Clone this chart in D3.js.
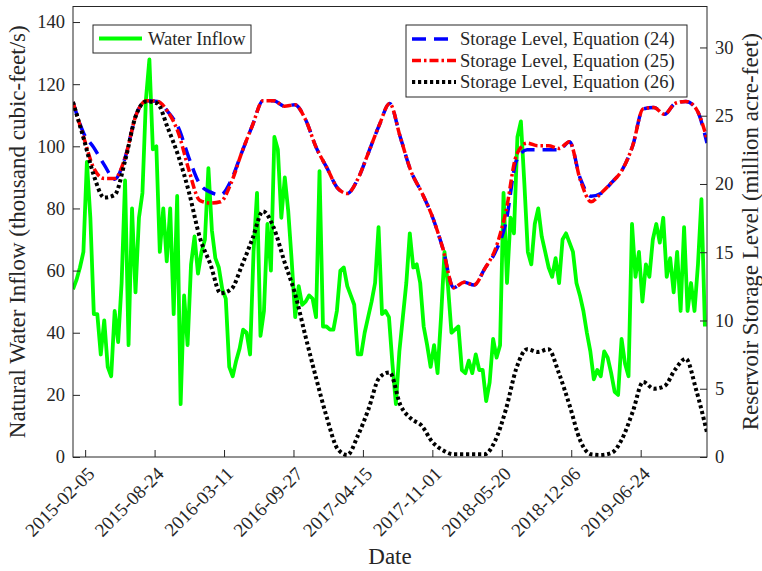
<!DOCTYPE html>
<html>
<head>
<meta charset="utf-8">
<script src="https://cdn.jsdelivr.net/npm/d3@7"></script>
<style>
  body { margin: 0; background: #fff; }
  svg text { font-family: "Liberation Serif", "Times New Roman", serif; fill: #262626; }
</style>
</head>
<body>
<svg id="chart" width="762" height="571"></svg>
<script>
// ---- data ----
// natural inflow, thousand cfs, one value every 10 days from 2015-01-01
const inflowStart = "2015-01-01";
const inflowStepDays = 10;
const inflowValues = [
  54, 57, 61, 66, 95, 77, 46, 46, 33, 44, 29, 26, 47, 37, 56, 89, 36, 80, 53, 77,
  85, 115, 128, 99, 100, 66, 80, 63, 80, 46, 84, 17, 52, 36, 62, 71, 59, 66, 70, 93,
  73, 64, 61, 54, 51, 29, 26, 31, 35, 41, 40, 33, 66, 85, 39, 47, 75, 60, 103, 99,
  77, 90, 79, 63, 45, 55, 49, 50, 52, 51, 45, 92, 42, 42, 41, 41, 47, 60, 61, 55,
  52, 49, 33, 33, 40, 45, 50, 56, 74, 46, 47, 45, 30, 17, 34, 45, 56, 72, 61, 62,
  56, 42, 36, 29, 36, 27, 45, 66, 55, 40, 41, 42, 28, 27, 31, 27, 33, 28, 28, 18,
  24, 38, 32, 36, 85, 56, 77, 72, 103, 108, 88, 66, 62, 75, 80, 71, 66, 61, 58, 64,
  56, 70, 72, 69, 66, 56, 52, 47, 40, 34, 25, 28, 26, 34, 32, 27, 21, 20, 38, 30,
  26, 75, 58, 66, 50, 62, 58, 70, 75, 69, 77, 58, 64, 53, 66, 47, 74, 47, 56, 47,
  62, 83, 42
];

// storage, million acre-feet, first of each month from 2015-01 to 2020-01
const storageStart = "2015-01-01";
const storageEq24 = [
  26.0, 23.7, 22.7, 21.4, 20.35, 22.0, 25.0, 26.1, 26.05, 25.3,
  24.1, 21.9, 20.0, 19.4, 19.2, 20.3, 22.3, 24.3, 26.1, 26.1,
  25.7, 25.8, 24.7, 22.7, 21.2, 19.7, 19.3, 20.4, 22.3, 24.3,
  25.9, 23.4, 20.9, 19.4, 17.6, 15.3, 12.4, 12.8, 12.6, 13.8,
  15.0, 17.2, 21.7, 22.5, 22.5, 22.5, 22.5, 23.1, 20.4, 19.1,
  19.3, 20.1, 21.0, 22.8, 25.5, 25.6, 25.1, 25.9, 26.05, 25.5,
  23.0
];
const storageEq25 = [
  26.0, 23.4, 21.2, 20.4, 20.4, 22.0, 25.0, 26.1, 26.05, 25.3,
  23.7, 21.0, 18.8, 18.6, 18.7, 20.1, 22.3, 24.3, 26.1, 26.1,
  25.7, 25.8, 24.7, 22.7, 21.2, 19.7, 19.3, 20.4, 22.3, 24.3,
  25.9, 23.4, 20.9, 19.4, 17.6, 15.3, 12.4, 12.8, 12.6, 13.8,
  15.2, 18.0, 22.1, 23.0, 22.8, 22.8, 22.6, 23.1, 20.3, 18.7,
  19.3, 20.1, 21.0, 22.8, 25.5, 25.6, 25.1, 25.9, 26.05, 25.5,
  23.3
];
const storageEq26 = [
  26.0, 23.3, 20.7, 19.0, 19.2, 21.8, 25.0, 26.05, 25.9, 24.1,
  22.0, 19.4, 16.1, 14.1, 12.0, 12.3, 14.0, 16.0, 18.0, 16.8,
  14.3, 12.0, 8.8, 5.8, 2.9, 0.6, 0.15, 1.6, 3.5, 5.8,
  6.2, 3.8, 2.8, 2.3, 1.1, 0.5, 0.2, 0.2, 0.2, 0.2,
  1.2, 3.5, 6.5, 7.9, 7.7, 7.9, 6.1, 3.8, 1.2, 0.2,
  0.15, 0.3, 1.3, 3.3, 5.5, 5.0, 5.2, 6.4, 7.2, 4.9,
  1.8
];

const xTickLabels = ["2015-02-05", "2015-08-24", "2016-03-11", "2016-09-27", "2017-04-15",
  "2017-11-01", "2018-05-20", "2018-12-06", "2019-06-24"];
const leftTicks = [0, 20, 40, 60, 80, 100, 120, 140];
const rightTicks = [0, 5, 10, 15, 20, 25, 30];

// ---- setup ----
const parse = d3.timeParse("%Y-%m-%d");
const fmt = d3.timeFormat("%Y-%m-%d");
const svg = d3.select("#chart");
const mLeft = 73, mRight = 707, mTop = 6.5, mBottom = 457;
const axisColor = "#262626";

const x = d3.scaleTime()
  .domain([parse("2015-01-01"), parse("2020-01-01")])
  .range([mLeft, mRight]);
const yL = d3.scaleLinear().domain([0, 145]).range([mBottom, mTop]);
const yR = d3.scaleLinear().domain([0, 33]).range([mBottom, mTop]);

const inflow = inflowValues.map((v, i) => ({ date: d3.timeDay.offset(parse(inflowStart), i * inflowStepDays), value: v }));
const toMonthly = arr => arr.map((v, i) => ({ date: d3.timeMonth.offset(parse(storageStart), i), value: v }));

svg.append("clipPath").attr("id", "plotclip")
  .append("rect").attr("x", mLeft).attr("y", mTop).attr("width", mRight - mLeft).attr("height", mBottom - mTop);

const plot = svg.append("g").attr("clip-path", "url(#plotclip)");

const lineL = d3.line().x(d => x(d.date)).y(d => yL(d.value));
const lineR = d3.line().x(d => x(d.date)).y(d => yR(d.value)).curve(d3.curveMonotoneX);

plot.append("path").datum(inflow)
  .attr("d", lineL).attr("fill", "none")
  .attr("stroke", "#00ff00").attr("stroke-width", 3.8).attr("stroke-linejoin", "round");

const series = [
  { data: storageEq24, color: "#0000ff", dash: "14,8", width: 3.5, label: "Storage Level, Equation (24)" },
  { data: storageEq25, color: "#ff0000", dash: "9,3,2.5,3", width: 3.5, label: "Storage Level, Equation (25)" },
  { data: storageEq26, color: "#000000", dash: "3.2,2.8", width: 4, label: "Storage Level, Equation (26)" }
];
series.forEach(s => {
  plot.append("path").datum(toMonthly(s.data))
    .attr("d", lineR).attr("fill", "none")
    .attr("stroke", s.color).attr("stroke-width", s.width)
    .attr("stroke-dasharray", s.dash);
});

// ---- axes ----
const styleAxis = g => {
  g.select(".domain").remove();
  g.selectAll(".tick line").attr("stroke", axisColor);
  g.selectAll(".tick text").attr("font-size", 18.5).attr("font-family", "Liberation Serif").attr("fill", axisColor);
};

svg.append("g").attr("transform", `translate(${mLeft},0)`)
  .call(d3.axisLeft(yL).tickValues(leftTicks).tickSize(-7).tickPadding(8))
  .call(styleAxis);

svg.append("g").attr("transform", `translate(${mRight},0)`)
  .call(d3.axisRight(yR).tickValues(rightTicks).tickSize(-7).tickPadding(8))
  .call(styleAxis);

const xAxis = svg.append("g").attr("transform", `translate(0,${mBottom})`)
  .call(d3.axisBottom(x).tickValues(xTickLabels.map(parse)).tickSize(-7).tickFormat(fmt))
  .call(styleAxis);
xAxis.selectAll(".tick text")
  .attr("x", 0).attr("y", 0).attr("dy", 0)
  .attr("font-size", 19)
  .attr("text-anchor", "end")
  .attr("transform", "translate(10,18) rotate(-45)");

// frame
svg.append("rect")
  .attr("x", mLeft).attr("y", mTop).attr("width", mRight - mLeft).attr("height", mBottom - mTop)
  .attr("fill", "none").attr("stroke", axisColor).attr("stroke-width", 1);

// axis titles
svg.append("text")
  .attr("transform", `translate(25,${(mTop + mBottom) / 2}) rotate(-90)`)
  .attr("text-anchor", "middle").attr("font-size", 23)
  .text("Natural Water Inflow (thousand cubic-feet/s)");
svg.append("text")
  .attr("transform", `translate(758,${(mTop + mBottom) / 2}) rotate(-90)`)
  .attr("text-anchor", "middle").attr("font-size", 23)
  .text("Reservoir Storage Level (million acre-feet)");
svg.append("text")
  .attr("x", (mLeft + mRight) / 2).attr("y", 564)
  .attr("text-anchor", "middle").attr("font-size", 23)
  .text("Date");

// ---- legends ----
const leg1 = svg.append("g");
leg1.append("rect").attr("x", 93).attr("y", 25).attr("width", 158).attr("height", 28)
  .attr("fill", "#fff").attr("stroke", axisColor);
leg1.append("line").attr("x1", 99).attr("x2", 142).attr("y1", 38.5).attr("y2", 38.5)
  .attr("stroke", "#00ff00").attr("stroke-width", 3.8);
leg1.append("text").attr("x", 148).attr("y", 38.5).attr("dy", "0.33em")
  .attr("font-size", 18.5).text("Water Inflow");

const leg2 = svg.append("g");
leg2.append("rect").attr("x", 406).attr("y", 25).attr("width", 281).attr("height", 72)
  .attr("fill", "#fff").attr("stroke", axisColor);
series.forEach((s, i) => {
  const yy = 39 + i * 21.5;
  leg2.append("line").attr("x1", 412).attr("x2", 456).attr("y1", yy).attr("y2", yy)
    .attr("stroke", s.color).attr("stroke-width", s.width).attr("stroke-dasharray", s.dash);
  leg2.append("text").attr("x", 460).attr("y", yy).attr("dy", "0.33em")
    .attr("font-size", 18.5).text(s.label);
});
</script>
</body>
</html>
